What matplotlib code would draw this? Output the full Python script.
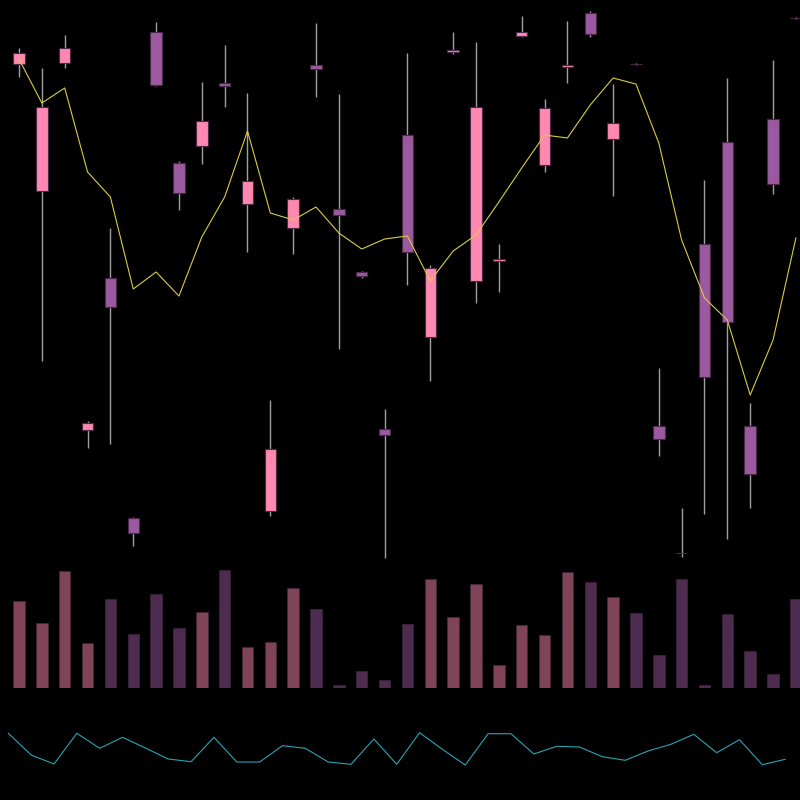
import numpy as np
import matplotlib
matplotlib.use("Agg")
import matplotlib.pyplot as plt

# OHLC (price units)
opens  = [536, 409, 537, 170, 322, 82, 568, 437, 454, 517, 396, 89, 372, 535, 391, 328, 171, 465,
          263, 548, 319, 339, 564, 435, 533, 587, 461, 536, 174, 47, 356, 458, 174, 481, 582]
highs  = [552, 532, 565, 179, 372, 83, 578, 439, 518, 555, 507, 200, 403, 577, 506, 329, 191, 547,
          335, 568, 558, 356, 584, 501, 579, 589, 516, 537, 232, 92, 420, 522, 197, 540, 583]
lows   = [523, 239, 532, 152, 156, 54, 514, 390, 436, 493, 348, 84, 346, 503, 251, 322, 42, 315,
          219, 546, 297, 308, 563, 428, 517, 563, 404, 535, 144, 43, 86, 61, 92, 406, 581]
closes = [547, 493, 552, 177, 293, 67, 515, 407, 479, 514, 419, 151, 401, 531, 385, 324, 165, 348,
          332, 550, 493, 341, 568, 492, 535, 566, 477, 536, 161, 47, 223, 278, 126, 416, 582]

moving_avg = [541, 497, 512, 428, 403, 311, 328, 304, 363, 403, 469, 387, 380, 393, 367, 351, 361, 364,
              319, 349, 365, 398, 432, 465, 462, 495, 522, 516, 457, 360, 302, 280, 205, 260, 362]

volume = [8700, 6500, 11700, 4500, 8900, 5400, 9400, 6000, 7600, 11800, 4100, 4600, 10000, 7900, 300,
          1700, 800, 6400, 10900, 7100, 10400, 2300, 6300, 5300, 11600, 10600, 9100, 7500, 3300, 10900,
          300, 7400, 3700, 1400, 8900]

indicator = [66.7, 45, 36, 66.7, 51.7, 62.7, 52, 41, 38.3, 62.7, 38, 38, 54.3, 51.7, 38, 35.7, 61, 35.7,
             67.3, 50.7, 35, 66.3, 66.3, 46, 53.7, 53, 43.3, 39.7, 49, 55.7, 65.7, 47.3, 60.3, 35.3, 40.7]

UP = "#ff88b0"
DOWN = "#9b59a0"
EDGE = "#4a2848"

x = np.arange(len(opens))
o = np.array(opens)
c = np.array(closes)
up = c > o
colors = np.where(up, UP, DOWN)

fig = plt.figure(figsize=(8, 8), dpi=100, facecolor="black")

ax = fig.add_axes([0, 0.3, 1, 0.7])
ax_vol = fig.add_axes([0, 0.14, 1, 0.15375])
ax_ind = fig.add_axes([0, 0, 1, 0.1375])

for a in (ax, ax_vol, ax_ind):
    a.set_facecolor("black")
    a.set_axis_off()

# candles
ax.vlines(x, lows, highs, color="#a0a0a0", lw=1, zorder=1)
ax.bar(x, np.abs(c - o), bottom=np.minimum(o, c), width=0.5,
       color=colors, edgecolor=EDGE, linewidth=0.8, zorder=2)
ax.plot(x, moving_avg, color="#d8cc44", lw=0.8, zorder=3)
ax.set_xlim(-0.8315, 34.18)
ax.set_ylim(40, 600)

# volume
ax_vol.bar(x, volume, width=0.5, color=colors, alpha=0.5,
           edgecolor=EDGE, linewidth=0.8)
ax_vol.set_xlim(-0.8315, 34.18)
ax_vol.set_ylim(0, 12300)

# indicator line
ax_ind.plot(x, indicator, color="#2aa4b4", lw=0.8)
ax_ind.set_xlim(-0.363, 34.65)
ax_ind.set_ylim(0, 110)

fig.savefig("out.png", dpi=100, facecolor="black")
